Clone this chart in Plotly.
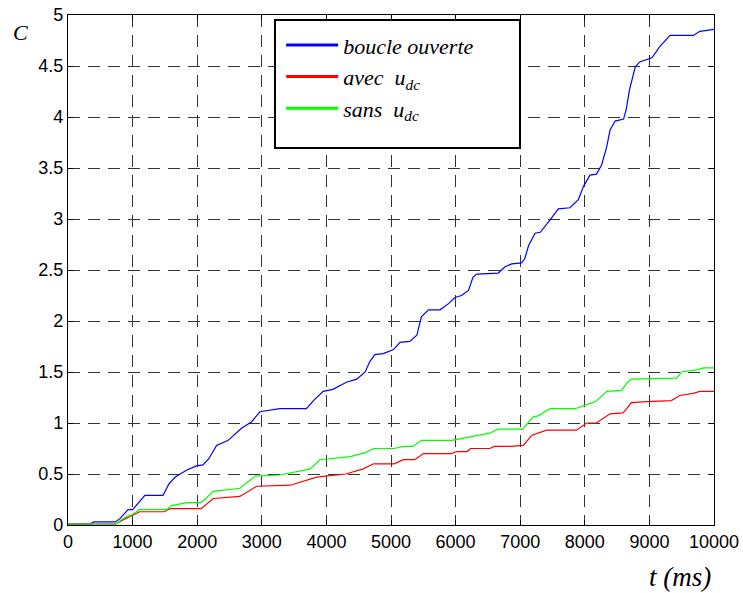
import plotly.graph_objects as go

# ---- data ----
t_blue = [0, 340, 400, 730, 800, 930, 1000, 1100, 1190, 1470, 1560, 1660, 1840, 1990, 2090, 2180, 2300, 2480,
          2600, 2690, 2840, 2970, 3280, 3690, 3800, 3950, 4100, 4260, 4310, 4470, 4600, 4670, 4750, 4880, 5040,
          5140, 5290, 5400, 5470, 5580, 5760, 5890, 5990, 6090, 6200, 6270, 6330, 6660, 6760, 6870, 7020, 7070,
          7130, 7230, 7310, 7460, 7590, 7770, 7900, 7980, 8080, 8180, 8260, 8340, 8390, 8470, 8600, 8640, 8690,
          8780, 8850, 9040, 9160, 9320, 9680, 9780, 10000]
c_blue = [0.01, 0.01, 0.03, 0.03, 0.06, 0.15, 0.15, 0.22, 0.29, 0.29, 0.40, 0.47, 0.54, 0.58, 0.59, 0.65, 0.78, 0.83,
          0.90, 0.95, 1.01, 1.11, 1.14, 1.14, 1.22, 1.31, 1.33, 1.38, 1.40, 1.43, 1.50, 1.60, 1.67, 1.68, 1.72,
          1.79, 1.80, 1.86, 2.04, 2.11, 2.11, 2.17, 2.23, 2.25, 2.30, 2.43, 2.46, 2.47, 2.53, 2.56, 2.57, 2.61,
          2.74, 2.86, 2.87, 2.99, 3.10, 3.11, 3.19, 3.32, 3.43, 3.44, 3.53, 3.71, 3.87, 3.96, 3.98, 4.07, 4.26,
          4.49, 4.54, 4.58, 4.69, 4.80, 4.80, 4.84, 4.86]

t_green = [0, 740, 800, 900, 990, 1110, 1530, 1600, 1840, 2060, 2150, 2250, 2660, 2780, 2900, 3280, 3600, 3750,
           3900, 4370, 4600, 4730, 5050, 5190, 5340, 5470, 5940, 6110, 6530, 6660, 7040, 7200, 7280, 7460, 7850,
           8080, 8170, 8340, 8570, 8650, 8720, 9420, 9500, 9730, 9840, 10000]
c_green = [0.01, 0.01, 0.04, 0.08, 0.10, 0.15, 0.15, 0.19, 0.22, 0.22, 0.27, 0.33, 0.36, 0.42, 0.48, 0.49, 0.53, 0.55,
           0.64, 0.67, 0.71, 0.75, 0.75, 0.77, 0.77, 0.83, 0.83, 0.85, 0.90, 0.94, 0.94, 1.06, 1.07, 1.14, 1.14,
           1.19, 1.21, 1.31, 1.32, 1.39, 1.43, 1.44, 1.50, 1.52, 1.54, 1.54]

t_red = [0, 740, 850, 990, 1110, 1490, 1580, 2060, 2250, 2660, 2920, 3440, 3850, 4300, 4570, 4730, 5050, 5190,
         5370, 5500, 5940, 6010, 6180, 6230, 6530, 6600, 6850, 7050, 7180, 7410, 7870, 8030, 8180, 8390, 8590,
         8650, 8720, 8960, 9340, 9470, 9680, 9780, 10000]
c_red = [0.01, 0.01, 0.05, 0.09, 0.13, 0.13, 0.16, 0.16, 0.26, 0.28, 0.38, 0.39, 0.47, 0.50, 0.55, 0.60, 0.60, 0.64,
         0.64, 0.70, 0.70, 0.72, 0.72, 0.75, 0.75, 0.77, 0.77, 0.78, 0.88, 0.93, 0.93, 1.00, 1.00, 1.09, 1.10,
         1.14, 1.20, 1.21, 1.22, 1.27, 1.29, 1.31, 1.31]

names = ["<i>boucle ouverte</i>", "<i>avec  u<sub>dc</sub></i>", "<i>sans  u<sub>dc</sub></i>"]
colors = ["#0000ff", "#ff0000", "#00ff00"]
x_ticks = [0, 1000, 2000, 3000, 4000, 5000, 6000, 7000, 8000, 9000, 10000]
y_ticks = [0, 0.5, 1, 1.5, 2, 2.5, 3, 3.5, 4, 4.5, 5]
y_tick_text = ["0", "0.5", "1", "1.5", "2", "2.5", "3", "3.5", "4", "4.5", "5"]

series = [(t_blue, c_blue), (t_red, c_red), (t_green, c_green)]

fig = go.Figure()
for (tx, cy), col in zip(series, colors):
    fig.add_trace(go.Scatter(x=tx, y=cy, mode="lines", showlegend=False,
                             line=dict(color=col, width=1.2)))
# legend entries (thicker key lines, as in the reference)
for i, (nm, col) in enumerate(zip(names, colors)):
    fig.add_trace(go.Scatter(x=[None], y=[None], mode="lines", name=nm, legendgroup="g%d" % i,
                             line=dict(color=col, width=3)))

axis_common = dict(showline=True, linecolor="black", linewidth=1.2, mirror="ticks",
                   ticks="inside", ticklen=5, tickcolor="black", automargin=False,
                   showgrid=True, gridcolor="#333333", gridwidth=1, griddash="12px,8px",
                   zeroline=False, tickfont=dict(family="Liberation Sans", size=18, color="black"))

fig.update_xaxes(range=[0, 10000], tickvals=x_ticks, ticktext=[str(v) for v in x_ticks], **axis_common)
fig.update_yaxes(range=[0, 5], tickvals=y_ticks, ticktext=y_tick_text, **axis_common)

# legend frame
fig.add_shape(type="rect", xref="paper", yref="paper", x0=0.3204, x1=0.6997, y0=0.739, y1=0.990,
              line=dict(color="black", width=2), fillcolor="white", layer="above")

fig.update_layout(
    width=743, height=593,
    margin=dict(l=68, r=29, t=15, b=68, autoexpand=False),
    paper_bgcolor="white", plot_bgcolor="rgba(0,0,0,0)",
    showlegend=True,
    legend=dict(x=0.33, y=0.982, xanchor="left", yanchor="top", bgcolor="rgba(0,0,0,0)",
                borderwidth=0, font=dict(family="Liberation Serif", size=22, color="black"),
                tracegroupgap=4, itemwidth=52, traceorder="normal"),
    annotations=[
        dict(text="<i>C</i>", xref="paper", yref="paper", x=-0.073, y=0.965, showarrow=False,
             xanchor="center", yanchor="middle",
             font=dict(family="Liberation Serif", size=22, color="black")),
        dict(text="<i>t (ms)</i>", xref="paper", yref="paper", x=0.947, y=-0.102, showarrow=False,
             xanchor="center", yanchor="middle",
             font=dict(family="Liberation Serif", size=27, color="black")),
    ],
)

fig.write_html("out.html")
